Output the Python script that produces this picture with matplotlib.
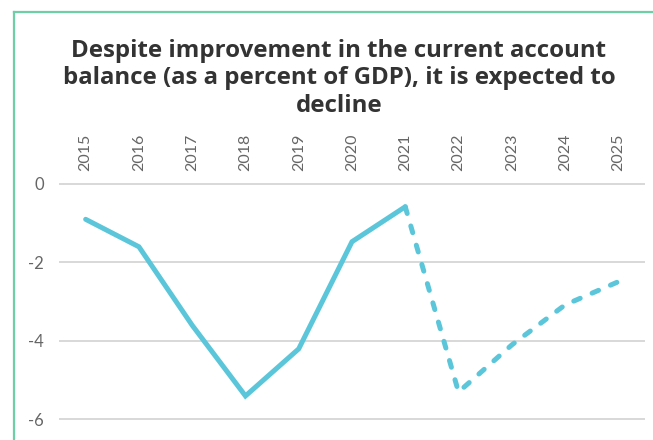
import matplotlib.pyplot as plt
from matplotlib.lines import Line2D

plt.rcParams['font.family'] = ['Lato', 'DejaVu Sans']

# Data
years = ['2015', '2016', '2017', '2018', '2019', '2020', '2021',
         '2022', '2023', '2024', '2025']
actual = [-0.90, -1.60, -3.60, -5.40, -4.20, -1.47, -0.58]
forecast = [-0.58, -5.30, -4.10, -3.08, -2.49]
yticks = [0, -2, -4, -6]

line_color = '#5bc6da'
grey = '#666666'

fig = plt.figure(figsize=(6.53, 4.40), dpi=100)
ax = fig.add_axes([0.0904, 0.002, 0.8973, 0.6066])

# solid historical part, dashed forecast part
ax.plot(range(len(actual)), actual, color=line_color, lw=3.6,
        solid_capstyle='round', solid_joinstyle='miter')
ax.plot(range(len(actual) - 1, len(years)), forecast, color=line_color,
        lw=3.6, dashes=(1.4, 2.6), dash_capstyle='round')

ax.set_xlim(-0.5, len(years) - 0.5)
ax.set_ylim(-6.5, 0.3)
ax.set_xticks(range(len(years)))
ax.set_xticklabels(years, rotation=90, fontsize=11.5, color=grey)
ax.xaxis.tick_top()
ax.set_yticks(yticks)
ax.set_yticklabels([str(v) for v in yticks], fontsize=12, color=grey)
ax.tick_params(axis='x', length=0, pad=1)
ax.tick_params(axis='y', length=0, pad=11)
ax.grid(axis='y', color='#d6d6d6', lw=1.3)
ax.set_axisbelow(True)
for s in ax.spines.values():
    s.set_visible(False)

fig.text(0.519, 0.822,
         'Despite improvement in the current account\n'
         'balance (as a percent of GDP), it is expected to\n'
         'decline',
         ha='center', va='center', fontsize=17.3, fontweight='bold',
         family=['Open Sans', 'DejaVu Sans'],
         color='#333333', linespacing=1.2)

# green frame (cut off at right and bottom)
border = '#6dcfa6'
fig.add_artist(Line2D([13.5 / 653, 13.5 / 653], [0, 1 - 12.5 / 440],
                      color=border, lw=1.6))
fig.add_artist(Line2D([13.5 / 653, 1], [1 - 12.5 / 440, 1 - 12.5 / 440],
                      color=border, lw=1.6))

fig.savefig('out.png', dpi=100)
